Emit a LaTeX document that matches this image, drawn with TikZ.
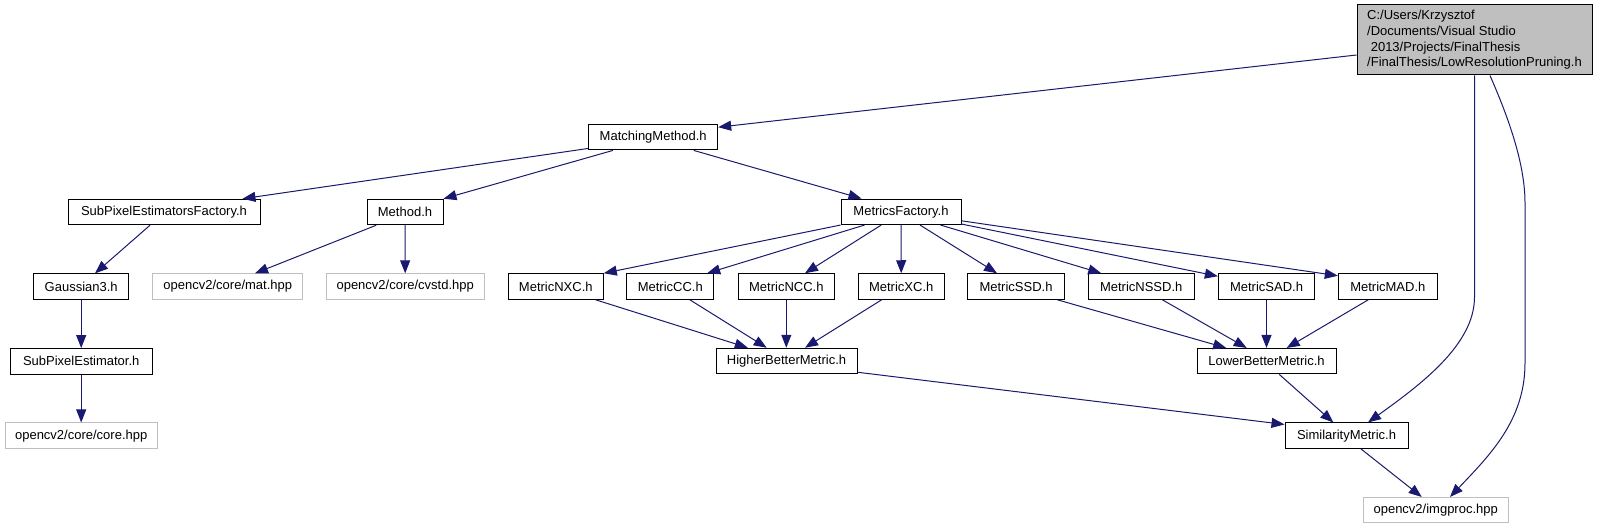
\documentclass[tikz,border=0pt]{standalone}
\usepackage{fontspec}
\setmainfont{Liberation Sans}
\usetikzlibrary{arrows.meta,calc}
\definecolor{edgecol}{HTML}{191970}
\definecolor{extcol}{HTML}{BFBFBF}
\begin{document}
\begin{tikzpicture}[x=1pt,y=-1pt,
  box/.style={draw=black, line width=1pt, inner sep=0pt, minimum height=25.5pt, font=\fontsize{13}{15.6}\selectfont},
  ext/.style={box, draw=extcol},
  edge/.style={draw=edgecol, line width=1pt, -{Triangle[length=13pt,width=10pt]}}]
\useasboundingbox[fill=white] (0,0) rectangle (1597,529);

% nodes
\node[box, fill=extcol, minimum width=235pt, minimum height=70pt, align=left] (top) at (1474.5,40)
  {C:/Users/Krzysztof\\/Documents/Visual Studio\\\hspace*{3.6pt}2013/Projects/FinalThesis\\/FinalThesis/LowResolutionPruning.h};
\node[box, minimum width=129pt] (mm) at (653.2,137.2) {MatchingMethod.h};
\node[box, minimum width=192pt] (spef) at (164,212) {SubPixelEstimatorsFactory.h};
\node[box, minimum width=76pt] (method) at (405,212) {Method.h};
\node[box, minimum width=120pt] (mf) at (901,211.8) {MetricsFactory.h};
\node[box, minimum width=95pt] (gauss) at (81.2,286.6) {Gaussian3.h};
\node[ext, minimum width=149.7pt] (mat) at (227.8,286.6) {opencv2/core/mat.hpp};
\node[ext, minimum width=157.7pt] (cvstd) at (405.2,286.6) {opencv2/core/cvstd.hpp};
\node[box, minimum width=95pt] (nxc) at (555.8,286.5) {MetricNXC.h};
\node[box, minimum width=86.7pt] (cc) at (670.3,286.5) {MetricCC.h};
\node[box, minimum width=96pt] (ncc) at (786.3,286.5) {MetricNCC.h};
\node[box, minimum width=85.7pt] (xc) at (901.2,286.5) {MetricXC.h};
\node[box, minimum width=96.7pt] (ssd) at (1016,286.5) {MetricSSD.h};
\node[box, minimum width=105.7pt] (nssd) at (1141.2,286.5) {MetricNSSD.h};
\node[box, minimum width=96.3pt] (sad) at (1266.5,286.5) {MetricSAD.h};
\node[box, minimum width=99pt] (mad) at (1387.8,286.5) {MetricMAD.h};
\node[box, minimum width=141.7pt] (spe) at (81.2,361.3) {SubPixelEstimator.h};
\node[box, minimum width=141pt] (hbm) at (786.5,361) {HigherBetterMetric.h};
\node[box, minimum width=139pt] (lbm) at (1266.5,361.2) {LowerBetterMetric.h};
\node[ext, minimum width=152.3pt] (core) at (81.2,435.7) {opencv2/core/core.hpp};
\node[box, minimum width=123pt] (sm) at (1346.5,435.7) {SimilarityMetric.h};
\node[ext, minimum width=144.7pt] (img) at (1435.7,510.2) {opencv2/imgproc.hpp};

% edges
\draw[edge] ([yshift=-15pt]top.west) -- ([yshift=10pt]mm.east);
\draw[edge] (top.south) -- (1474.5,297) .. controls (1474.5,345) and (1420,385) .. ([xshift=21.5pt]sm.north);
\draw[edge] ([xshift=15.5pt]top.south) .. controls (1505,110) and (1525,160) .. (1525,203) -- (1525,363)
  .. controls (1525,420) and (1490,455) .. ([xshift=14.3pt]img.north);

\draw[edge] ([yshift=2pt]mm.south west) -- ([xshift=-18pt]spef.north east);
\draw[edge] ([xshift=24.6pt]mm.south west) -- (method.north east);
\draw[edge] ([xshift=-24.4pt]mm.south east) -- ([xshift=21pt]mf.north west);

\draw[edge] ([xshift=-14pt]spef.south) -- ([xshift=13.8pt]gauss.north);
\draw[edge] (gauss.south) -- (spe.north);
\draw[edge] (spe.south) -- (core.north);
\draw[edge] ([xshift=9.7pt]method.south west) -- ([xshift=27.2pt]mat.north);
\draw[edge] (method.south) -- (cvstd.north);

\draw[edge] (mf.south west) -- (nxc.north east);
\draw[edge] ([xshift=24pt]mf.south west) -- ([xshift=-7pt]cc.north east);
\draw[edge] ([xshift=40.7pt]mf.south west) -- ([xshift=18.7pt]ncc.north);
\draw[edge] (mf.south) -- (xc.north);
\draw[edge] ([xshift=19pt]mf.south) -- ([xshift=-19pt]ssd.north);
\draw[edge] ([xshift=-21pt]mf.south east) -- ([xshift=13.4pt]nssd.north west);
\draw[edge] ([yshift=1pt]mf.south east) -- ([yshift=-3pt]sad.north west);
\draw[edge] ([yshift=-9pt]mf.east) -- ([yshift=-2.5pt]mad.north west);

\draw[edge] ([xshift=-8.3pt]nxc.south east) -- ([xshift=32.3pt]hbm.north west);
\draw[edge] ([xshift=-24.4pt]cc.south east) -- ([xshift=-19.8pt]hbm.north);
\draw[edge] (ncc.south) -- (ncc.south |- hbm.north);
\draw[edge] ([xshift=-19.5pt]xc.south) -- ([xshift=18.5pt]hbm.north);

\draw[edge] ([xshift=-7.6pt]ssd.south east) -- ([xshift=29.7pt]lbm.north west);
\draw[edge] ([xshift=-32.3pt]nssd.south east) -- ([xshift=-19.8pt]lbm.north);
\draw[edge] (sad.south) -- (lbm.north);
\draw[edge] ([xshift=-19.5pt]mad.south) -- ([xshift=20.2pt]lbm.north);

\draw[edge] ([yshift=2pt]hbm.south east) -- ([yshift=-2pt]sm.north west);
\draw[edge] ([xshift=12.8pt]lbm.south) -- ([xshift=-13.2pt]sm.north);
\draw[edge] ([xshift=14.5pt]sm.south) -- ([xshift=-14pt]img.north);
\end{tikzpicture}
\end{document}
